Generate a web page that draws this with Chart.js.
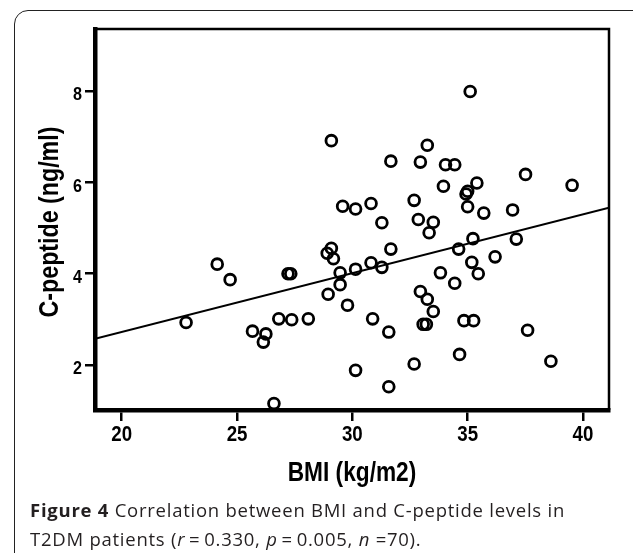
<!DOCTYPE html>
<html>
<head>
<meta charset="utf-8">
<script src="https://cdn.jsdelivr.net/npm/chart.js@4/dist/chart.umd.min.js"></script>
<style>
  body { margin: 0; background: #fff; width: 633px; height: 553px; overflow: hidden; position: relative; }
  #frame { position: absolute; left: 14px; top: 10px; width: 640px; height: 560px; border: 1.6px solid #222; border-radius: 14px; }
  #chart { position: absolute; left: 0; top: 0; }
  #caption { position: absolute; left: 30px; top: 495px; font-family: "Open Sans", sans-serif; font-size: 18.5px; line-height: 29px; letter-spacing: 0.75px; color: #231f20; white-space: nowrap; }
</style>
</head>
<body>
<div id="frame"></div>
<canvas id="chart" width="633" height="553"></canvas>
<div id="caption"><b>Figure 4</b> Correlation between BMI and C-peptide levels in<br>T2DM patients (<i>r</i>&thinsp;=&thinsp;0.330, <i>p</i>&thinsp;=&thinsp;0.005, <i>n</i> =70).</div>
<script>
// BMI values (x)
var bmi = [22.79, 24.14, 24.70, 25.67, 26.25, 26.14, 26.60, 26.81, 27.21, 27.33,
           27.37, 28.09, 28.91, 29.09, 29.18, 28.95, 29.09, 29.47, 29.47, 29.58,
           29.79, 30.14, 30.14, 30.14, 30.81, 30.81, 30.88, 31.28, 31.28, 31.58,
           31.58, 31.67, 31.67, 32.68, 32.68, 32.86, 32.95, 32.95, 33.07, 33.21,
           33.25, 33.25, 33.33, 33.51, 33.51, 33.82, 33.95, 34.04, 34.44, 34.44,
           34.61, 34.65, 34.84, 34.93, 35.00, 35.00, 35.11, 35.18, 35.23, 35.26,
           35.40, 35.46, 35.70, 36.19, 36.95, 37.11, 37.51, 37.60, 38.61, 39.53];

// C-peptide values (y), same order
var cpeptide = [2.93, 4.21, 3.87, 2.74, 2.68, 2.50, 1.15, 3.01, 4.00, 4.00,
                2.99, 3.01, 4.45, 4.56, 4.33, 3.55, 6.92, 4.02, 3.76, 5.48,
                3.31, 5.42, 4.10, 1.88, 5.54, 4.24, 3.01, 5.12, 4.14, 2.72,
                1.52, 6.47, 4.54, 5.61, 2.02, 5.19, 6.45, 3.61, 2.89, 2.89,
                6.82, 3.44, 4.90, 5.13, 3.17, 4.02, 5.92, 6.39, 6.39, 3.79,
                4.54, 2.23, 2.97, 5.75, 5.81, 5.47, 8.00, 4.25, 4.77, 2.97,
                5.99, 4.00, 5.33, 4.37, 5.40, 4.76, 6.18, 2.76, 2.08, 5.94];

// fit line end points
var fitX = [18.84, 41.13];
var fitY = [2.57, 5.45];

var xTicks = [20, 25, 30, 35, 40];
var yTicks = [2, 4, 6, 8];

var xTitle = 'BMI (kg/m2)';
var yTitle = 'C-peptide (ng/ml)';

var points = bmi.map(function(v, i) { return { x: v, y: cpeptide[i] }; });
var fitLine = fitX.map(function(v, i) { return { x: v, y: fitY[i] }; });

// draw text squeezed sideways, like the narrow bold face of the original
function narrowText(c, text, x, y, size, squeeze, align, angle) {
    c.save();
    c.translate(x, y);
    if (angle) c.rotate(angle);
    c.scale(squeeze, 1);
    c.font = 'bold ' + size + 'px "Liberation Sans", Arial, sans-serif';
    c.textAlign = align;
    c.textBaseline = 'alphabetic';
    c.fillStyle = '#000';
    c.fillText(text, 0, 0);
    c.restore();
}

// box edges, tick labels and axis titles
var boxPlugin = {
    id: 'box',
    afterDraw: function(chart) {
        var a = chart.chartArea;
        var c = chart.ctx;
        var xs = chart.scales.x;
        var ys = chart.scales.y;
        c.save();
        c.strokeStyle = '#000';
        c.lineWidth = 2.5;
        c.beginPath();
        c.moveTo(a.left, a.top);
        c.lineTo(a.right, a.top);
        c.lineTo(a.right, a.bottom);
        c.stroke();
        c.restore();

        xTicks.forEach(function(v) {
            narrowText(c, String(v), xs.getPixelForValue(v), a.bottom + 31, 21.5, 0.87, 'center');
        });
        yTicks.forEach(function(v) {
            narrowText(c, String(v), a.left - 13, ys.getPixelForValue(v) + 9, 19, 0.85, 'right');
        });
        narrowText(c, xTitle, (a.left + a.right) / 2, a.bottom + 71, 27, 0.84, 'center');
        narrowText(c, yTitle, 58, 222, 27, 0.86, 'center', -Math.PI / 2);
    }
};

var ctx = document.getElementById('chart').getContext('2d');
var myChart = new Chart(ctx, {
    type: 'scatter',
    data: {
        datasets: [{
            data: points,
            pointRadius: 5.4,
            pointBorderWidth: 2.8,
            borderColor: '#000',
            backgroundColor: 'rgba(0,0,0,0)',
            order: 1
        }, {
            type: 'line',
            data: fitLine,
            borderColor: '#000',
            borderWidth: 2,
            pointRadius: 0,
            fill: false,
            order: 2
        }]
    },
    plugins: [boxPlugin],
    options: {
        responsive: false,
        animation: false,
        devicePixelRatio: 1,
        layout: { padding: { left: 0, right: 24, top: 29, bottom: 63 } },
        plugins: {
            legend: { display: false },
            tooltip: { enabled: false }
        },
        scales: {
            x: {
                type: 'linear',
                min: 18.84,
                max: 41.13,
                afterFit: function(scale) { scale.height = 80; },
                afterBuildTicks: function(scale) {
                    scale.ticks = xTicks.map(function(v) { return { value: v }; });
                },
                grid: { drawOnChartArea: false, drawTicks: true, tickLength: 11, color: '#000', lineWidth: 2.5 },
                border: { display: true, color: '#000', width: 4.5 },
                ticks: { display: false }
            },
            y: {
                type: 'linear',
                min: 1.01,
                max: 9.37,
                afterFit: function(scale) { scale.width = 95; },
                afterBuildTicks: function(scale) {
                    scale.ticks = yTicks.map(function(v) { return { value: v }; });
                },
                grid: { drawOnChartArea: false, drawTicks: true, tickLength: 10, color: '#000', lineWidth: 2.5 },
                border: { display: true, color: '#000', width: 4.5 },
                ticks: { display: false }
            }
        }
    }
});
</script>
</body>
</html>
